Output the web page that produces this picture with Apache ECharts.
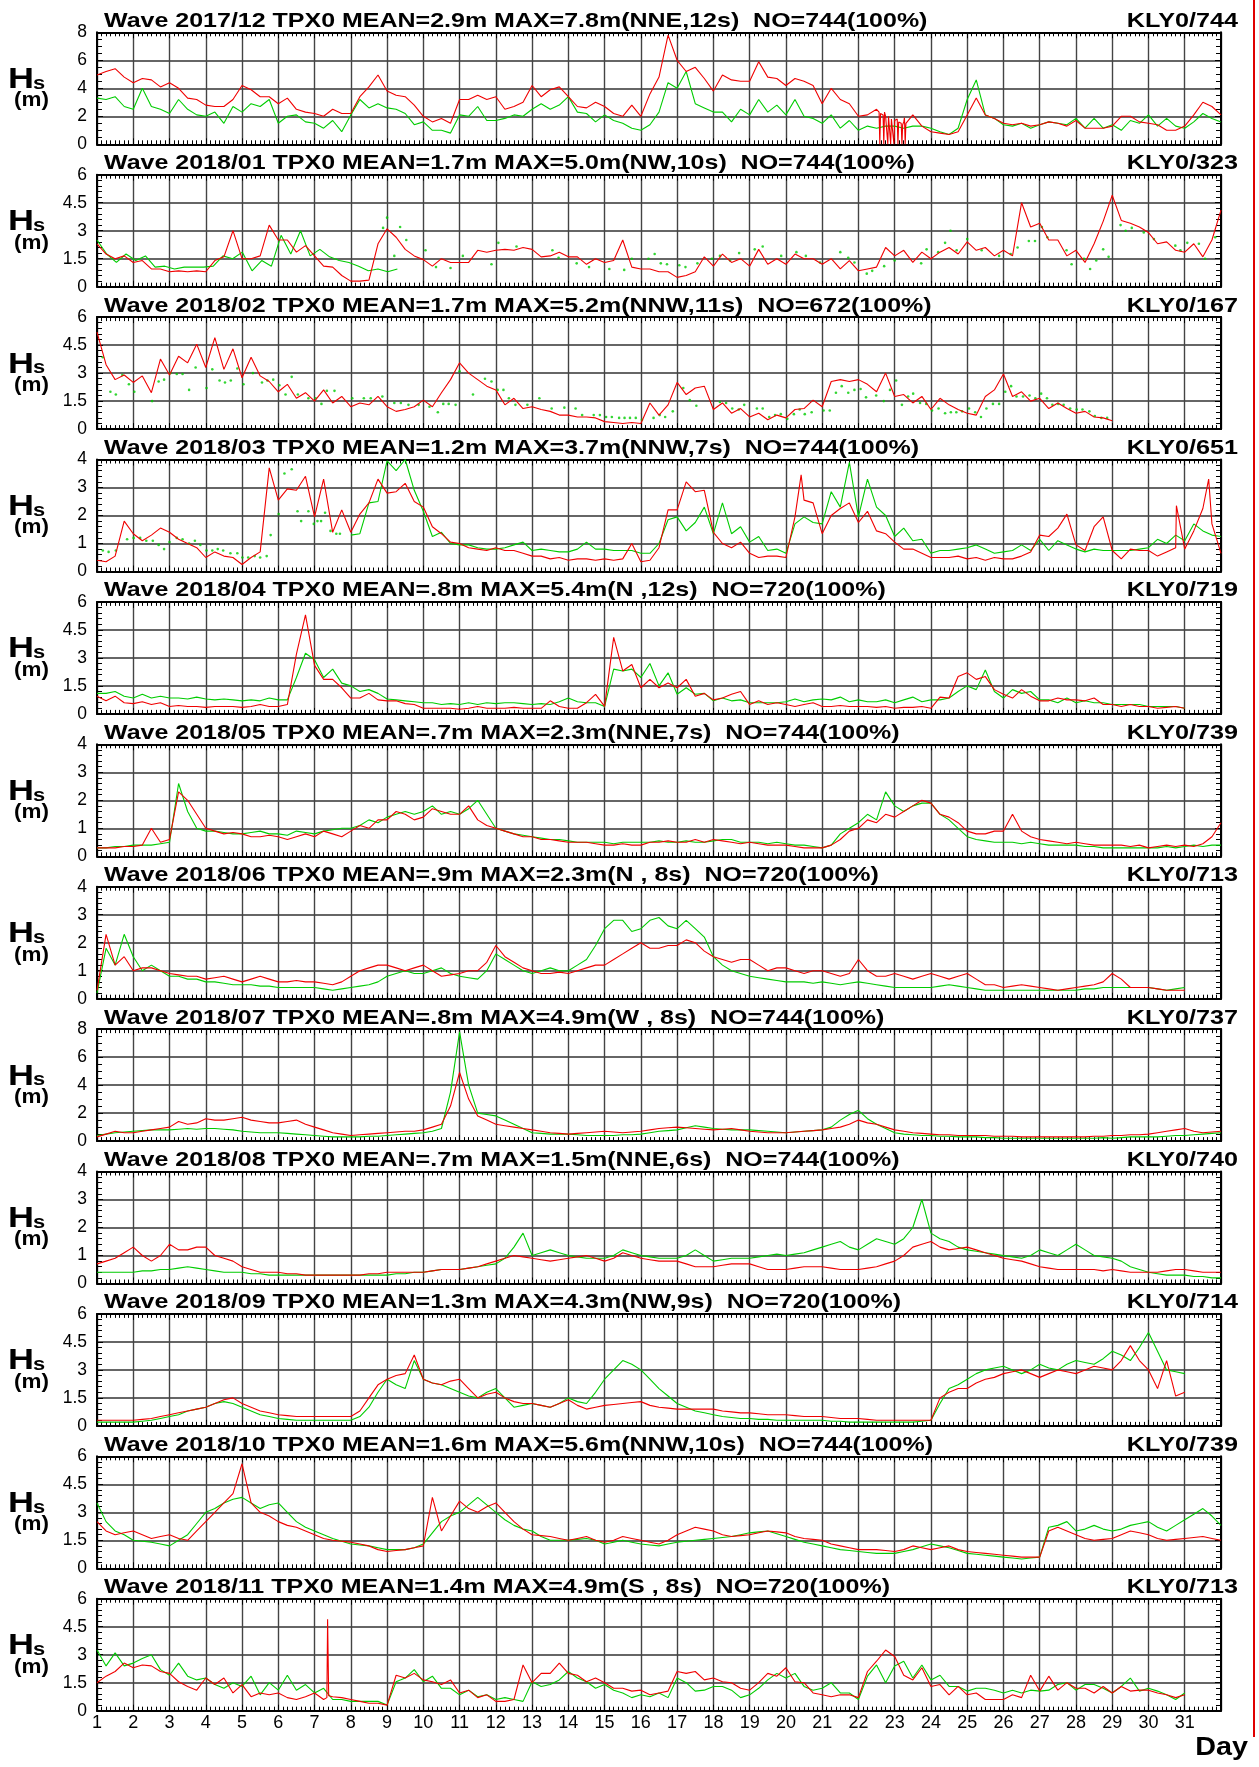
<!DOCTYPE html>
<html><head><meta charset="utf-8">
<script src="https://cdn.jsdelivr.net/npm/echarts@6/dist/echarts.min.js"></script>
<style>html,body{margin:0;padding:0;background:#fff}#c{width:1259px;height:1767px}</style>
</head><body><div id="c"></div>
<script>
// ---------------- labels ----------------
const panelTitles = [
 'Wave 2017/12 TPX0 MEAN=2.9m MAX=7.8m(NNE,12s)  NO=744(100%)',
 'Wave 2018/01 TPX0 MEAN=1.7m MAX=5.0m(NW,10s)  NO=744(100%)',
 'Wave 2018/02 TPX0 MEAN=1.7m MAX=5.2m(NNW,11s)  NO=672(100%)',
 'Wave 2018/03 TPX0 MEAN=1.2m MAX=3.7m(NNW,7s)  NO=744(100%)',
 'Wave 2018/04 TPX0 MEAN=.8m MAX=5.4m(N ,12s)  NO=720(100%)',
 'Wave 2018/05 TPX0 MEAN=.7m MAX=2.3m(NNE,7s)  NO=744(100%)',
 'Wave 2018/06 TPX0 MEAN=.9m MAX=2.3m(N , 8s)  NO=720(100%)',
 'Wave 2018/07 TPX0 MEAN=.8m MAX=4.9m(W , 8s)  NO=744(100%)',
 'Wave 2018/08 TPX0 MEAN=.7m MAX=1.5m(NNE,6s)  NO=744(100%)',
 'Wave 2018/09 TPX0 MEAN=1.3m MAX=4.3m(NW,9s)  NO=720(100%)',
 'Wave 2018/10 TPX0 MEAN=1.6m MAX=5.6m(NNW,10s)  NO=744(100%)',
 'Wave 2018/11 TPX0 MEAN=1.4m MAX=4.9m(S , 8s)  NO=720(100%)'
];
const stationTags = ['KLY0/744','KLY0/323','KLY0/167','KLY0/651','KLY0/719','KLY0/739','KLY0/713','KLY0/737','KLY0/740','KLY0/714','KLY0/739','KLY0/713'];
const yMaxes    = [8, 6, 6, 4, 6, 4, 4, 8, 4, 6, 6, 6];
const ySteps    = [2, 1.5, 1.5, 1, 1.5, 1, 1, 2, 1, 1.5, 1.5, 1.5];
const monthDays = [31, 31, 28, 31, 30, 31, 30, 31, 31, 30, 31, 30];
const dayLabels = ['1','2','3','4','5','6','7','8','9','10','11','12','13','14','15','16','17','18','19','20','21','22','23','24','25','26','27','28','29','30','31'];

// ---------------- data: Hs (m), 6-hourly from day 1 00h to the end of the month ----------------
const red_2017_12 = [
 4.95,5.2,5.4,4.8, 4.4,4.7,4.6,4.1, 4.4,4.0,3.3,3.2, 2.8,2.7,2.7,3.2, 4.2,3.9,3.4,3.4,
 2.9,3.3,2.5,2.3, 2.2,2.0,2.5,2.2, 2.2,3.4,4.1,4.95, 3.8,3.5,3.4,2.8, 2.0,1.6,1.85,1.5,
 3.2,3.2,3.5,3.2, 3.4,2.5,2.7,3.0, 4.2,3.4,3.9,4.1, 3.4,2.7,2.6,3.0, 2.7,2.2,2.0,2.8,
 2.0,3.6,4.8,7.8, 6.0,5.2,5.5,4.7, 3.8,4.95,4.6,4.5, 4.5,5.9,4.8,4.7, 4.2,4.7,4.5,4.2,
 2.9,4.0,3.2,2.9, 2.0,2.1,2.5,2.0, 1.7,1.6,2.1,1.3, 0.9,0.8,0.7,0.9, 2.1,3.3,2.1,1.85,
 1.5,1.4,1.5,1.3, 1.4,1.6,1.5,1.3, 1.7,1.15,1.15,1.15, 1.3,2.0,2.0,1.6, 1.5,1.4,1.0,1.0,
 1.3,2.1,3.0,2.7, 2.1];
const redSpikes_2017_12 = [[22.57,2.3],[22.59,0],[22.61,2.2],[22.68,2.1],[22.70,0],[22.72,2.3],[22.79,1.9],[22.81,0],
 [22.83,2.0],[22.87,2.1],[22.89,0],[22.91,1.8],[22.96,1.9],[22.98,0],[23.0,1.7],[23.07,1.8],[23.09,0],[23.11,1.6],
 [23.18,1.5],[23.2,0],[23.22,1.4],[23.27,1.9],[23.29,0],[23.31,1.5]];
const green_2017_12 = [
 3.3,3.2,3.4,2.7, 2.5,4.0,2.7,2.5, 2.2,3.2,2.5,2.1, 2.0,2.3,1.5,2.7, 2.3,2.9,2.7,3.2,
 1.5,2.0,2.1,1.6, 1.5,1.15,1.7,0.9, 2.1,3.2,2.6,2.9, 2.6,2.5,2.2,1.4, 1.6,1.0,1.0,0.8,
 2.1,2.0,2.7,1.7, 1.7,1.85,2.1,2.0, 2.5,2.9,2.5,2.8, 3.4,2.3,2.2,1.6, 2.1,1.7,1.5,1.15,
 1.0,1.4,2.3,4.4, 4.0,5.2,2.9,2.6, 2.3,2.3,1.6,2.5, 2.1,3.2,2.3,2.8, 2.1,3.2,2.0,1.85,
 1.5,2.1,1.15,1.7, 1.0,1.3,1.15,1.3, 1.3,1.15,1.3,1.3, 1.15,0.9,0.7,1.15, 3.2,4.6,2.1,1.85,
 1.4,1.3,1.5,1.15, 1.4,1.6,1.5,1.4, 1.85,1.15,1.85,1.15, 1.4,1.0,1.7,1.5, 2.1,1.3,1.85,1.3,
 1.15,1.6,2.2,1.85, 1.6];

const red_2018_01 = [
 2.3,1.75,1.5,1.65, 1.3,1.4,0.95,0.95, 0.8,0.85,0.8,0.85, 0.8,1.4,1.6,3.0, 1.5,1.5,1.65,3.3,
 2.5,2.5,1.85,2.2, 1.65,1.1,1.05,0.6, 0.3,0.3,0.35,2.3, 3.1,2.65,2.0,1.65, 1.45,1.1,1.5,1.3,
 1.3,1.3,1.95,1.85, 1.95,2.0,1.95,2.1, 2.0,1.6,1.65,1.85, 1.6,1.6,1.2,1.5, 1.3,1.4,2.5,1.05,
 0.95,0.95,0.8,0.8, 0.5,0.6,0.8,1.6, 1.1,1.75,1.3,1.5, 1.1,2.0,1.2,1.5, 1.2,1.75,1.5,1.5,
 1.2,1.5,0.95,1.4, 0.85,0.95,1.05,2.1, 1.65,1.95,1.3,1.85, 1.5,1.85,2.1,1.75, 2.4,1.95,2.1,1.65,
 1.95,1.65,4.5,3.2, 3.4,2.5,2.5,1.65, 1.95,1.3,2.3,3.5, 4.9,3.55,3.4,3.2, 2.9,2.3,2.4,1.95,
 1.85,2.3,1.6,2.5, 4.1];
const green_2018_01 = [
 2.5,1.75,1.3,1.75, 1.4,1.65,1.05,1.1, 0.95,1.05,1.05,1.05, 1.1,1.65,1.5,1.85, 0.85,1.4,1.1,2.75,
 1.75,3.0,1.65,2.0, 1.6,1.4,1.3,1.1, 0.85,0.95,0.8,0.95,
 null,null,null,null, null,null,null,null, null,null,null,null, null,null,null,null, null,null,null,null,
 null,null,null,null, null,null,null,null, null,null,null,null, null,null,null,null, null,null,null,null,
 null,null,null,null, null,null,null,null, null,null,null,null, null,null,null,null, null,null,null,null,
 null,null,null,null, null,null,null,null, null,null,null,null, null,null,null,null, null,null,null,null,
 null,null,null,null, null];
const greenDots_2018_01 = [
 [8.89,3.15],[9.0,3.7],[9.2,1.65],[9.36,3.2],[9.53,2.5],[10.06,1.95],[10.35,1.05],[10.75,1.0],[11.09,1.65],
 [11.88,1.2],[12.07,2.35],[12.57,2.15],[13.56,1.95],[13.73,1.55],[14.23,1.25],[14.57,1.05],[15.13,0.95],
 [15.54,0.9],[15.75,1.5],[16.21,1.5],[16.38,1.75],[16.55,1.25],[16.72,1.2],[17.06,1.15],[17.23,1.05],[17.56,1.25],
 [17.96,1.5],[18.18,1.65],[18.46,1.4],[18.71,1.8],[19.14,2.0],[19.36,2.15],[19.87,1.65],[20.29,1.85],[20.55,1.65],
 [20.94,1.3],[21.5,1.85],[21.72,1.55],[21.89,1.3],[22.23,0.7],[22.38,0.85],[22.71,1.1],[23.0,1.4],[23.73,1.25],
 [23.88,2.0],[24.2,1.85],[24.39,2.35],[24.54,3.0],[24.71,1.95],[25.0,2.55],[25.4,1.95],[25.88,1.65],[26.2,1.75],
 [26.39,2.1],[26.7,2.45],[26.87,2.45],[27.06,3.2],[27.21,2.65],[27.74,1.95],[27.88,1.2],[28.22,1.5],[28.39,0.95],
 [28.56,1.4],[28.75,2.0],[28.9,1.6],[29.23,3.3],[29.37,3.0],[29.54,3.15],[29.87,2.9],[30.15,2.55],[30.74,2.2],
 [30.88,1.95],[31.07,2.35],[31.39,2.3],[31.56,1.5],[31.84,2.65]];

const red_2018_02 = [
 5.2,3.45,2.65,2.9, 2.5,2.85,1.95,3.75, 2.9,3.9,3.55,4.55, 3.3,4.9,3.2,4.3, 2.75,3.85,2.85,2.55,
 2.0,2.4,1.65,1.95, 1.5,2.1,1.4,1.75, 1.2,1.4,1.3,1.75, 1.2,0.95,1.05,1.2, 1.55,1.2,1.95,2.65,
 3.55,3.0,2.65,2.3, 2.1,1.3,1.65,1.1, 1.2,1.05,0.95,0.75, 0.75,0.65,0.65,0.6, 0.4,0.35,0.3,0.35,
 0.3,1.4,0.75,1.3, 2.5,1.85,2.2,2.3, 1.05,1.4,0.85,1.1, 0.65,0.85,0.5,0.75, 0.6,1.05,1.1,1.55,
 1.2,2.55,2.65,2.55, 2.65,2.4,2.0,3.0, 1.75,1.85,1.4,1.75, 1.05,1.65,1.3,1.05, 0.85,0.75,1.75,2.1,
 2.95,1.75,2.0,1.5, 1.65,1.1,1.4,1.1, 0.85,0.95,0.65,0.6, 0.45];
const greenDots_2018_02 = [
 [1.16,3.85],[1.37,2.0],[1.52,1.85],[1.7,2.9],[1.88,2.4],[2.03,2.0],[2.52,1.5],[2.7,2.55],[2.85,2.65],[3.03,3.0],
 [3.2,2.95],[3.36,2.95],[3.54,2.1],[3.72,3.3],[4.02,2.2],[4.18,3.2],[4.38,2.6],[4.53,2.5],[4.69,2.6],[4.87,3.25],
 [5.04,2.4],[5.3,3.0],[5.55,2.5],[5.7,2.6],[5.86,2.65],[6.03,2.35],[6.2,1.85],[6.37,2.8],[6.54,1.85],[6.83,1.65],
 [7.03,1.65],[7.19,1.35],[7.34,2.05],[7.55,2.05],[8.04,1.65],[8.36,1.65],[8.55,1.65],[8.87,1.75],[9.2,1.4],[9.38,1.4],
 [9.59,1.3],[9.87,1.3],[10.17,1.2],[10.4,0.9],[10.55,1.35],[10.7,1.35],[10.89,1.3],[11.0,3.1],[11.37,1.85],[11.7,2.7],
 [11.88,2.55],[12.05,2.1],[12.21,2.1],[12.36,1.65],[12.54,1.3],[12.87,1.3],[13.2,1.65],[13.54,1.1],[13.89,1.15],[14.2,1.1],
 [14.38,0.75],[14.7,0.75],[14.87,0.75],[15.04,0.65],[15.2,0.65],[15.4,0.6],[15.55,0.6],[15.7,0.6],[15.86,0.6],[16.03,0.5],
 [16.35,0.6],[16.52,0.75],[16.67,0.65],[16.88,0.95],[17.17,2.2],[17.35,1.55],[17.53,1.25],[18.18,1.45],[18.35,1.4],
 [18.52,1.1],[18.7,1.05],[18.85,1.3],[19.2,1.1],[19.36,1.1],[19.54,0.65],[19.7,0.75],[19.86,0.8],[20.04,0.55],[20.22,0.8],
 [20.38,1.05],[20.52,0.8],[20.71,0.9],[21.04,1.0],[21.21,1.0],[21.38,1.95],[21.54,2.3],[21.72,1.95],[21.89,2.1],[22.06,2.15],
 [22.21,1.7],[22.49,1.8],[22.7,1.5],[22.87,2.1],[23.04,2.6],[23.2,1.3],[23.37,1.75],[23.51,1.9],[23.7,1.4],[23.87,1.35],
 [24.03,1.0],[24.21,1.1],[24.39,0.85],[24.55,0.9],[24.7,0.9],[24.86,0.95],[25.05,1.1],[25.22,0.9],[25.38,0.65],[25.53,1.1],
 [25.71,1.35],[25.88,1.35],[26.05,2.0],[26.21,2.3],[26.36,1.75],[26.54,1.75],[26.72,1.8],[26.88,1.65],[27.04,1.9],
 [27.2,1.65],[27.35,1.3],[27.51,1.35],[27.66,1.3],[27.84,1.1],[28.02,1.05],[28.18,1.05],[28.37,0.95],[28.52,0.7],
 [28.7,0.6],[28.86,0.6]];

const red_2018_03 = [
 0.4,0.35,0.55,1.8, 1.35,1.1,1.3,1.55, 1.4,1.15,1.0,0.85, 0.5,0.7,0.55,0.5, 0.25,0.5,0.7,3.7,
 2.55,2.95,2.9,3.4, 1.95,3.3,1.4,2.2, 1.4,2.05,2.45,3.3, 2.8,2.85,3.15,2.5, 2.3,1.6,1.35,1.05,
 1.0,0.85,0.8,0.75, 0.85,0.75,0.75,0.65, 0.55,0.55,0.45,0.5, 0.4,0.45,0.45,0.4, 0.45,0.4,0.45,1.0,
 0.35,0.4,0.85,2.2, 2.2,3.2,2.85,2.9, 1.4,1.0,0.85,1.05, 0.65,0.5,0.55,0.55, 0.5,1.95,2.55,2.45,
 1.35,2.0,2.25,2.45, 1.75,2.15,1.45,1.35, 1.05,0.8,0.8,0.65, 0.5,0.5,0.5,0.55, 0.45,0.5,0.4,0.5,
 0.45,0.45,0.55,0.7, 1.3,1.25,1.55,2.05, 0.95,0.75,1.6,1.95, 0.75,0.45,0.8,0.75, 0.75,0.55,0.7,0.85,
 0.8,1.45,2.25,1.7, 0.65];
const redSpikes_2018_03 = [[20.42,3.45],[30.77,2.35],[31.66,3.3]];
const green_2018_03 = [
 null,null,null,null, null,null,null,null, null,null,null,null, null,null,null,null, null,null,null,null,
 null,null,null,null, null,null,null,null, 1.3,1.35,2.45,2.5, 3.95,3.6,4.0,2.9, 2.15,1.25,1.4,1.0,
 0.95,0.95,0.85,0.8, 0.8,0.85,0.95,1.05, 0.75,0.8,0.75,0.7, 0.7,0.8,1.05,0.8, 0.8,0.75,0.75,0.75,
 0.65,0.65,1.0,1.85, 1.95,1.45,1.75,2.3, 1.35,2.45,1.35,1.6, 1.05,1.25,0.75,0.8, 0.65,1.7,1.95,1.75,
 1.7,2.85,2.3,3.9, 1.95,3.3,2.3,2.0, 1.25,1.55,1.1,1.15, 0.65,0.75,0.75,0.8, 0.85,0.95,0.8,0.65,
 0.7,0.75,0.95,0.75, 1.15,0.75,1.1,0.95, 0.8,0.7,0.8,0.75, 0.75,0.75,0.75,0.8, 0.85,1.15,1.0,1.3,
 1.1,1.7,1.45,1.3, 1.25];
const greenDots_2018_03 = [
 [1.16,0.75],[1.32,0.7],[1.52,0.75],[1.83,1.15],[2.01,1.2],[2.19,1.2],[2.36,1.1],[2.54,1.1],[2.7,0.95],[2.85,0.8],
 [3.0,1.05],[3.2,1.2],[3.36,1.15],[3.54,1.0],[3.7,1.1],[3.85,0.95],[4.02,0.75],[4.18,0.75],[4.33,0.8],[4.48,0.75],
 [4.68,0.65],[4.87,0.65],[5.01,0.5],[5.17,0.5],[5.35,0.55],[5.5,0.5],[5.68,0.55],[5.79,1.3],[6.01,2.05],[6.17,3.5],
 [6.37,3.65],[6.53,2.15],[6.63,1.8],[6.83,2.15],[6.98,1.7],[7.08,1.8],[7.18,1.8],[7.29,2.1],[7.44,1.45],[7.6,1.35],[7.7,1.35]];

const red_2018_04 = [
 0.95,0.7,0.95,0.6, 0.55,0.65,0.5,0.6, 0.4,0.45,0.4,0.4, 0.35,0.4,0.4,0.4, 0.35,0.4,0.5,0.4,
 0.4,0.5,3.2,5.3, 2.6,1.85,1.85,1.4, 0.85,0.85,1.1,0.75, 0.7,0.7,0.55,0.5, 0.3,0.3,0.3,0.3,
 0.25,0.3,0.4,0.3, 0.3,0.3,0.35,0.3, 0.3,0.3,0.7,0.4, 0.3,0.3,0.6,1.05, 0.4,4.1,2.3,2.65,
 1.4,1.85,1.4,1.65, 1.4,1.85,0.95,1.1, 0.75,0.85,1.05,1.2, 0.5,0.7,0.5,0.6, 0.5,0.4,0.5,0.6,
 0.4,0.4,0.45,0.4, 0.4,0.4,0.35,0.4, 0.3,0.35,0.35,0.4, 0.3,0.9,0.85,2.0, 2.2,1.85,2.0,1.3,
 1.05,0.85,1.3,0.95, 0.7,0.7,0.85,0.75, 0.75,0.7,0.85,0.5, 0.5,0.4,0.5,0.4, 0.4,0.3,0.35,0.4,
 0.3];
const green_2018_04 = [
 1.1,1.1,1.2,0.95, 0.85,1.05,0.85,0.95, 0.85,0.85,0.8,0.9, 0.8,0.75,0.8,0.75, 0.7,0.75,0.7,0.85,
 0.75,0.75,1.95,3.25, 2.9,1.95,2.4,1.65, 1.5,1.2,1.3,1.1, 0.8,0.75,0.7,0.65, 0.6,0.6,0.5,0.55,
 0.5,0.6,0.5,0.6, 0.55,0.6,0.6,0.55, 0.5,0.55,0.5,0.65, 0.85,0.65,0.6,0.6, 0.4,2.4,2.3,2.4,
 1.95,2.7,1.5,2.2, 1.05,1.4,1.05,1.1, 0.7,0.85,0.7,0.75, 0.6,0.6,0.6,0.6, 0.65,0.8,0.65,0.75,
 0.8,0.75,0.9,0.65, 0.75,0.65,0.65,0.75, 0.6,0.75,0.9,0.65, 0.75,0.75,0.85,1.2, 1.5,1.3,2.35,1.2,
 0.85,1.3,1.1,1.2, 0.75,0.75,0.6,0.85, 0.6,0.7,0.6,0.6, 0.5,0.5,0.5,0.5, 0.4,0.4,0.4,0.4,
 0.3];

const red_2018_05 = [
 0.3,0.3,0.3,0.35, 0.35,0.4,1.0,0.5, 0.6,2.3,2.0,1.5, 1.0,0.9,0.8,0.85, 0.8,0.7,0.7,0.75,
 0.7,0.6,0.7,0.8, 0.7,0.9,0.8,0.7, 0.9,1.1,1.0,1.3, 1.3,1.6,1.5,1.3, 1.4,1.7,1.6,1.5,
 1.5,1.8,1.3,1.1, 1.0,0.9,0.8,0.7, 0.7,0.6,0.6,0.55, 0.5,0.5,0.5,0.45, 0.4,0.4,0.45,0.4,
 0.4,0.5,0.5,0.55, 0.5,0.5,0.6,0.5, 0.6,0.55,0.5,0.45, 0.5,0.45,0.4,0.4, 0.4,0.35,0.3,0.3,
 0.3,0.4,0.6,0.9, 1.0,1.3,1.2,1.5, 1.4,1.6,1.8,2.0, 1.9,1.5,1.4,1.2, 0.9,0.8,0.8,0.9,
 0.9,1.5,0.9,0.7, 0.6,0.55,0.5,0.45, 0.5,0.45,0.4,0.4, 0.4,0.4,0.35,0.4, 0.3,0.35,0.4,0.35,
 0.4,0.35,0.45,0.7, 1.2];
const green_2018_05 = [
 0.3,0.3,0.35,0.35, 0.4,0.4,0.4,0.45, 0.5,2.6,1.6,1.0, 0.9,0.9,0.85,0.8, 0.8,0.85,0.9,0.8,
 0.8,0.75,0.9,0.85, 0.8,0.9,0.95,1.0, 1.0,1.1,1.3,1.2, 1.4,1.5,1.6,1.5, 1.6,1.8,1.5,1.6,
 1.5,1.7,2.0,1.5, 1.0,0.9,0.8,0.75, 0.7,0.65,0.6,0.6, 0.55,0.5,0.5,0.5, 0.5,0.45,0.5,0.5,
 0.5,0.5,0.55,0.5, 0.5,0.55,0.5,0.5, 0.55,0.6,0.6,0.5, 0.5,0.5,0.45,0.5, 0.45,0.4,0.4,0.35,
 0.3,0.4,0.8,1.0, 1.2,1.5,1.3,2.3, 1.8,1.6,1.8,1.9, 1.9,1.5,1.3,1.0, 0.7,0.6,0.55,0.5,
 0.5,0.5,0.45,0.5, 0.45,0.4,0.4,0.4, 0.4,0.35,0.35,0.3, 0.3,0.3,0.3,0.3, 0.3,0.3,0.35,0.3,
 0.35,0.4,0.35,0.4, 0.4];

const red_2018_06 = [
 0.3,2.3,1.2,1.5, 1.0,1.1,1.1,1.0, 0.9,0.85,0.8,0.8, 0.7,0.75,0.8,0.7, 0.6,0.7,0.8,0.7,
 0.6,0.6,0.65,0.6, 0.6,0.55,0.5,0.6, 0.8,1.0,1.1,1.2, 1.2,1.1,1.0,1.1, 1.2,1.0,0.8,0.85,
 0.9,1.0,1.0,1.3, 1.9,1.5,1.3,1.1, 1.0,0.9,0.9,0.95, 0.9,1.0,1.1,1.2, 1.2,1.4,1.6,1.8,
 2.0,1.8,1.8,1.9, 1.9,2.1,2.0,1.7, 1.5,1.4,1.3,1.4, 1.4,1.2,1.0,1.1, 1.1,1.0,0.9,1.0,
 1.0,0.9,0.8,0.9, 1.4,1.0,0.8,0.8, 0.9,0.8,0.7,0.8, 0.9,0.8,0.7,0.8, 0.9,0.7,0.5,0.5,
 0.4,0.45,0.5,0.45, 0.4,0.35,0.3,0.35, 0.4,0.45,0.5,0.6, 0.9,0.7,0.4,0.4, 0.4,0.35,0.3,0.3,
 0.3];
const green_2018_06 = [
 0.2,1.8,1.2,2.3, 1.5,1.0,1.2,1.0, 0.8,0.8,0.7,0.7, 0.6,0.6,0.55,0.5, 0.5,0.5,0.45,0.45,
 0.4,0.4,0.4,0.4, 0.4,0.35,0.3,0.35, 0.4,0.45,0.5,0.6, 0.8,0.9,1.0,0.9, 0.9,1.0,1.1,0.9,
 0.8,0.75,0.7,1.0, 1.6,1.4,1.2,1.0, 0.9,1.0,1.1,1.0, 1.0,1.2,1.4,1.9, 2.5,2.8,2.8,2.4,
 2.5,2.8,2.9,2.6, 2.5,2.8,2.5,2.2, 1.5,1.2,1.0,0.9, 0.8,0.75,0.7,0.65, 0.6,0.6,0.6,0.55,
 0.6,0.55,0.5,0.55, 0.6,0.55,0.5,0.45, 0.4,0.4,0.4,0.4, 0.4,0.45,0.5,0.45, 0.4,0.35,0.3,0.3,
 0.3,0.3,0.3,0.3, 0.3,0.3,0.3,0.3, 0.3,0.35,0.35,0.4, 0.4,0.4,0.4,0.4, 0.4,0.35,0.3,0.35,
 0.4];

const red_2018_07 = [
 0.3,0.5,0.7,0.6, 0.6,0.7,0.8,0.9, 1.0,1.4,1.2,1.3, 1.6,1.5,1.5,1.6, 1.7,1.5,1.4,1.3,
 1.3,1.4,1.5,1.2, 1.0,0.8,0.6,0.5, 0.4,0.45,0.5,0.55, 0.6,0.65,0.7,0.7, 0.8,1.0,1.2,2.5,
 4.9,3.0,1.8,1.5, 1.2,1.1,1.0,0.9, 0.8,0.7,0.6,0.55, 0.5,0.55,0.6,0.65, 0.7,0.65,0.6,0.65,
 0.7,0.8,0.9,0.95, 1.0,0.95,0.9,0.85, 0.8,0.85,0.9,0.8, 0.7,0.65,0.6,0.6, 0.6,0.65,0.7,0.75,
 0.8,0.9,1.0,1.2, 1.5,1.3,1.2,1.0, 0.8,0.7,0.6,0.55, 0.5,0.45,0.45,0.4, 0.4,0.4,0.4,0.35,
 0.35,0.35,0.3,0.3, 0.3,0.3,0.3,0.3, 0.3,0.3,0.35,0.35, 0.4,0.4,0.45,0.45, 0.5,0.6,0.7,0.8,
 0.9,0.7,0.6,0.65, 0.7];
const green_2018_07 = [
 0.4,0.5,0.6,0.65, 0.7,0.75,0.8,0.8, 0.8,0.85,0.9,0.85, 0.9,0.9,0.85,0.8, 0.7,0.65,0.6,0.6,
 0.6,0.55,0.5,0.45, 0.4,0.35,0.3,0.3, 0.3,0.3,0.35,0.35, 0.4,0.45,0.5,0.55, 0.6,0.7,0.9,3.5,
 7.8,4.0,2.0,1.9, 1.8,1.5,1.2,0.9, 0.6,0.55,0.5,0.5, 0.5,0.45,0.4,0.4, 0.4,0.4,0.45,0.45,
 0.5,0.6,0.7,0.75, 0.8,0.95,1.1,1.0, 0.9,0.85,0.8,0.8, 0.8,0.75,0.7,0.65, 0.6,0.65,0.7,0.75,
 0.8,1.0,1.5,1.9, 2.2,1.6,1.2,0.9, 0.6,0.5,0.45,0.4, 0.4,0.35,0.35,0.3, 0.3,0.3,0.25,0.25,
 0.2,0.2,0.2,0.2, 0.2,0.2,0.2,0.2, 0.2,0.2,0.2,0.25, 0.2,0.25,0.3,0.3, 0.3,0.3,0.35,0.4,
 0.4,0.45,0.5,0.55, 0.6];

const red_2018_08 = [
 0.7,0.8,0.9,1.1, 1.3,1.0,0.8,1.0, 1.4,1.2,1.2,1.3, 1.3,1.0,0.9,0.8, 0.6,0.5,0.4,0.4,
 0.4,0.35,0.35,0.3, 0.3,0.3,0.3,0.3, 0.3,0.3,0.35,0.35, 0.4,0.4,0.4,0.4, 0.4,0.45,0.5,0.5,
 0.5,0.55,0.6,0.7, 0.8,0.9,1.0,0.95, 0.9,0.85,0.8,0.85, 0.9,0.95,1.0,0.9, 0.8,0.9,1.1,1.0,
 0.9,0.85,0.8,0.8, 0.8,0.7,0.6,0.6, 0.6,0.65,0.7,0.7, 0.7,0.6,0.5,0.5, 0.5,0.55,0.6,0.6,
 0.6,0.55,0.5,0.5, 0.5,0.55,0.6,0.7, 0.8,1.0,1.3,1.4, 1.5,1.3,1.2,1.25, 1.3,1.2,1.1,1.0,
 0.9,0.85,0.8,0.7, 0.6,0.55,0.5,0.5, 0.5,0.5,0.5,0.45, 0.5,0.45,0.4,0.4, 0.4,0.4,0.45,0.5,
 0.5,0.45,0.4,0.4, 0.4];
const green_2018_08 = [
 0.4,0.4,0.4,0.4, 0.4,0.45,0.45,0.5, 0.5,0.55,0.6,0.55, 0.5,0.45,0.4,0.4, 0.4,0.35,0.35,0.3,
 0.3,0.3,0.3,0.3, 0.3,0.3,0.3,0.3, 0.3,0.3,0.3,0.3, 0.3,0.35,0.35,0.4, 0.4,0.45,0.5,0.5,
 0.5,0.55,0.6,0.65, 0.7,0.9,1.3,1.8, 1.0,1.1,1.2,1.1, 1.0,0.95,0.9,0.9, 0.9,1.0,1.2,1.1,
 1.0,0.95,0.9,0.9, 0.9,1.0,1.2,1.0, 0.8,0.85,0.9,0.9, 0.9,0.95,1.0,1.05, 1.0,1.05,1.1,1.2,
 1.3,1.4,1.5,1.3, 1.2,1.4,1.6,1.5, 1.4,1.6,2.0,3.0, 1.8,1.6,1.5,1.3, 1.2,1.15,1.1,1.05,
 1.0,0.95,0.9,1.0, 1.2,1.1,1.0,1.2, 1.4,1.2,1.0,0.95, 0.9,0.8,0.6,0.5, 0.4,0.35,0.3,0.3,
 0.3,0.25,0.25,0.2, 0.2];

const red_2018_09 = [
 0.3,0.3,0.3,0.3, 0.3,0.35,0.4,0.5, 0.6,0.7,0.8,0.9, 1.0,1.2,1.4,1.5, 1.2,1.0,0.8,0.7,
 0.6,0.55,0.5,0.5, 0.5,0.5,0.5,0.5, 0.5,0.8,1.5,2.2, 2.5,2.7,2.8,3.8, 2.5,2.3,2.2,2.4,
 2.5,2.0,1.5,1.7, 1.8,1.5,1.3,1.2, 1.2,1.1,1.0,1.2, 1.4,1.1,0.9,1.0, 1.1,1.15,1.2,1.25,
 1.3,1.1,1.0,0.95, 0.9,0.9,0.9,0.9, 0.9,0.8,0.75,0.7, 0.7,0.65,0.6,0.6, 0.6,0.55,0.5,0.5,
 0.5,0.45,0.4,0.4, 0.4,0.35,0.3,0.3, 0.3,0.3,0.3,0.3, 0.3,1.5,1.8,2.0, 2.0,2.3,2.5,2.6,
 2.8,2.9,3.0,2.8, 2.6,2.8,3.0,2.9, 2.8,3.0,3.2,3.1, 3.0,3.5,4.3,3.5, 3.0,2.0,3.5,1.6,
 1.8];
const green_2018_09 = [
 0.2,0.2,0.2,0.2, 0.2,0.25,0.3,0.4, 0.5,0.6,0.8,0.9, 1.0,1.2,1.3,1.2, 1.0,0.8,0.6,0.5,
 0.4,0.35,0.3,0.3, 0.3,0.3,0.3,0.3, 0.3,0.5,1.0,1.8, 2.5,2.2,2.0,3.5, 2.5,2.3,2.2,2.0,
 1.8,1.6,1.5,1.8, 2.0,1.5,1.0,1.1, 1.2,1.1,1.0,1.2, 1.5,1.3,1.2,1.8, 2.5,3.0,3.5,3.3,
 3.0,2.5,2.0,1.6, 1.2,1.0,0.8,0.7, 0.6,0.5,0.45,0.4, 0.4,0.35,0.35,0.3, 0.3,0.3,0.3,0.3,
 0.3,0.25,0.25,0.2, 0.2,0.2,0.2,0.2, 0.2,0.2,0.2,0.25, 0.3,1.2,2.0,2.2, 2.5,2.8,3.0,3.1,
 3.2,3.0,2.8,3.0, 3.3,3.1,3.0,3.3, 3.5,3.4,3.3,3.6, 4.0,3.8,3.5,4.2, 5.0,4.0,3.0,2.9,
 2.8];

const red_2018_10 = [
 2.5,2.0,1.8,1.9, 2.0,1.8,1.6,1.7, 1.8,1.6,1.5,2.0, 2.5,3.0,3.5,4.0, 5.6,3.5,3.0,2.8,
 2.5,2.3,2.2,2.0, 1.8,1.6,1.5,1.45, 1.4,1.3,1.2,1.0, 0.9,0.95,1.0,1.1, 1.2,3.8,2.0,2.8,
 3.6,3.2,3.0,3.3, 3.5,3.0,2.5,2.1, 1.8,1.75,1.7,1.6, 1.5,1.6,1.7,1.5, 1.4,1.5,1.7,1.6,
 1.5,1.4,1.3,1.5, 1.8,2.0,2.2,2.1, 2.0,1.8,1.7,1.75, 1.8,1.9,2.0,1.95, 1.9,1.7,1.6,1.55,
 1.5,1.3,1.2,1.1, 1.0,1.0,1.0,0.95, 0.9,1.0,1.2,1.1, 1.0,1.1,1.2,1.0, 0.9,0.85,0.8,0.75,
 0.7,0.65,0.6,0.6, 0.6,2.0,2.2,2.0, 1.8,1.6,1.5,1.55, 1.6,1.8,2.0,1.9, 1.8,1.6,1.5,1.55,
 1.6,1.65,1.7,1.6, 1.5];
const green_2018_10 = [
 3.5,2.5,2.0,1.8, 1.5,1.45,1.4,1.3, 1.2,1.5,1.8,2.4, 3.0,3.2,3.5,3.7, 3.8,3.5,3.2,3.4,
 3.5,3.0,2.5,2.2, 2.0,1.8,1.6,1.45, 1.3,1.25,1.2,1.1, 1.0,1.0,1.0,1.1, 1.3,1.9,2.5,2.8,
 3.0,3.4,3.8,3.4, 3.0,2.6,2.3,2.1, 2.0,1.7,1.5,1.5, 1.5,1.55,1.6,1.5, 1.3,1.4,1.5,1.4,
 1.3,1.25,1.2,1.3, 1.4,1.45,1.5,1.55, 1.6,1.65,1.7,1.8, 1.9,1.95,2.0,1.85, 1.7,1.55,1.4,1.3,
 1.2,1.1,1.0,0.95, 0.9,0.85,0.8,0.8, 0.8,0.9,1.0,1.15, 1.3,1.2,1.1,0.95, 0.8,0.75,0.7,0.65,
 0.6,0.55,0.5,0.55, 0.6,2.2,2.3,2.5, 2.0,2.1,2.3,2.1, 2.0,2.1,2.3,2.4, 2.5,2.2,2.0,2.3,
 2.6,2.9,3.2,2.8, 2.3];

const red_2018_11 = [
 1.5,1.85,2.1,2.55, 2.3,2.45,2.4,2.1, 2.0,1.55,1.3,1.1, 1.75,1.4,1.75,0.95, 1.4,0.75,0.95,0.85,
 0.95,0.7,0.6,0.75, 0.95,0.6,0.75,0.7, 0.6,0.5,0.4,0.4, 0.3,1.9,1.75,2.0, 1.65,1.55,1.4,1.65,
 0.95,1.1,0.7,0.85, 0.5,0.5,0.6,2.45, 1.5,2.0,2.0,2.55, 2.0,1.9,1.55,1.75, 1.5,1.2,1.2,1.05,
 1.1,0.85,0.95,1.05, 2.1,2.0,2.1,1.65, 1.75,1.55,1.5,1.2, 1.1,1.5,2.0,1.85, 2.3,1.55,1.5,0.95,
 0.85,0.75,0.85,0.85, 0.7,2.1,2.65,3.25, 2.9,1.9,1.65,2.3, 1.3,1.4,0.85,1.3, 0.85,0.95,0.6,0.6,
 0.6,0.85,0.7,1.9, 1.05,1.85,1.1,1.5, 1.2,1.2,0.95,1.3, 0.95,1.3,1.05,1.1, 1.1,0.95,0.85,0.7,
 0.85];
const redSpikes_2018_11 = [[7.34,0.7],[7.36,4.9],[7.39,0.8]];
const green_2018_11 = [
 3.25,2.4,3.1,2.4, 2.55,2.8,3.0,2.2, 1.9,2.55,1.85,1.65, 1.75,1.4,1.2,1.5, 1.3,1.85,0.85,1.5,
 1.1,1.9,1.1,1.4, 0.95,1.2,0.6,0.6, 0.5,0.5,0.5,0.5, 0.3,1.55,1.75,2.2, 1.55,1.85,1.2,1.2,
 0.85,1.1,0.75,0.85, 0.6,0.7,0.6,0.5, 1.55,1.3,1.4,1.65, 2.1,1.75,1.55,1.2, 1.4,1.1,0.95,0.7,
 0.85,0.75,0.95,0.7, 1.75,1.5,1.05,1.1, 1.3,1.3,1.1,0.7, 0.85,1.2,1.65,2.0, 1.75,2.0,1.3,1.1,
 1.2,1.5,0.95,0.95, 0.6,1.85,2.45,1.5, 2.4,2.65,1.75,2.45, 1.65,1.9,1.3,1.3, 1.05,1.2,1.2,1.1,
 0.95,1.1,0.95,1.1, 1.05,1.1,1.4,1.5, 1.1,1.4,1.4,1.2, 0.95,1.3,1.75,1.05, 1.2,1.05,0.85,0.6,
 0.95];

const redSets    = [red_2017_12, red_2018_01, red_2018_02, red_2018_03, red_2018_04, red_2018_05, red_2018_06, red_2018_07, red_2018_08, red_2018_09, red_2018_10, red_2018_11];
const redSpikeSets = [redSpikes_2017_12, null, null, redSpikes_2018_03, null, null, null, null, null, null, null, redSpikes_2018_11];
const greenSets  = [green_2017_12, green_2018_01, null, green_2018_03, green_2018_04, green_2018_05, green_2018_06, green_2018_07, green_2018_08, green_2018_09, green_2018_10, green_2018_11];
const dotSets    = [null, greenDots_2018_01, greenDots_2018_02, greenDots_2018_03, null, null, null, null, null, null, null, null];

// ---------------- layout ----------------
const LEFT = 97, RIGHT = 38, PH = 112, TOP0 = 32.3, GAP = 142.4;
const FONT = '"Liberation Sans", Arial, Helvetica, sans-serif';
const RED = '#f00000', GREEN = '#00cc00';

function toPoints(arr, nDays, extra) {
  const step = nDays / (arr.length - 1);
  const pts = arr.map((v, i) => [1 + i * step, v]);
  if (extra) { extra.forEach(p => pts.push(p)); pts.sort((a, b) => a[0] - b[0]); }
  return pts;
}
function label(x, y, text, size, align, sx) {
  return { type: 'text', x: x, y: y, scaleX: sx, scaleY: 1, silent: true,
    style: { text: text, font: 'bold ' + size + 'px ' + FONT, fill: '#000', textAlign: align, textVerticalAlign: 'middle' } };
}

const grids = [], xAxes = [], yAxes = [], series = [], graphics = [];
for (let k = 0; k < 12; k++) {
  const top = TOP0 + GAP * k;
  const last = k === 11;
  grids.push({ left: LEFT, right: RIGHT, top: top, height: PH });
  const xBase = {
    type: 'value', gridIndex: k, min: 1, max: 32, interval: 1,
    axisLine: { show: true, onZero: false, lineStyle: { color: '#000', width: 2 } },
    axisTick: { show: true, inside: true, length: 6, lineStyle: { color: '#000', width: 1 } },
    minorTick: { show: true, splitNumber: 8, length: 4, lineStyle: { color: '#000', width: 1 } },
    minorSplitLine: { show: false }
  };
  xAxes.push(Object.assign({}, xBase, {
    position: 'bottom',
    splitLine: { show: true, lineStyle: { color: '#444', width: 1.4 } },
    axisLabel: last ? { show: true, color: '#000', fontSize: 18, fontFamily: FONT, margin: 3,
      formatter: v => dayLabels[v - 1] || '' } : { show: false }
  }));
  xAxes.push(Object.assign({}, xBase, { position: 'top', splitLine: { show: false }, axisLabel: { show: false } }));
  const minorN = yMaxes[k] === 8 ? 4 : 5;
  const yBase = {
    type: 'value', gridIndex: k, min: 0, max: yMaxes[k], interval: ySteps[k],
    axisLine: { show: true, onZero: false, lineStyle: { color: '#000', width: 2 } },
    axisTick: { show: true, inside: true, length: 6, lineStyle: { color: '#000', width: 1 } },
    minorTick: { show: true, splitNumber: minorN, length: 5, lineStyle: { color: '#000', width: 1 } }
  };
  yAxes.push(Object.assign({}, yBase, {
    position: 'left',
    splitLine: { show: true, lineStyle: { color: '#333', width: 1.6 } },
    axisLabel: { show: true, color: '#000', fontSize: 17.5, fontFamily: FONT, margin: 10 }
  }));
  yAxes.push(Object.assign({}, yBase, { position: 'right', splitLine: { show: false }, axisLabel: { show: false } }));

  if (greenSets[k]) series.push({
    type: 'line', xAxisIndex: 2 * k, yAxisIndex: 2 * k, data: toPoints(greenSets[k], monthDays[k]),
    showSymbol: false, connectNulls: false, lineStyle: { color: GREEN, width: 1.1 }, itemStyle: { color: GREEN },
    animation: false, silent: true, z: 3
  });
  if (dotSets[k]) series.push({
    type: 'scatter', xAxisIndex: 2 * k, yAxisIndex: 2 * k, data: dotSets[k],
    symbolSize: 2.6, itemStyle: { color: GREEN }, animation: false, silent: true, z: 3
  });
  series.push({
    type: 'line', xAxisIndex: 2 * k, yAxisIndex: 2 * k, data: toPoints(redSets[k], monthDays[k], redSpikeSets[k]),
    showSymbol: false, connectNulls: false, lineStyle: { color: RED, width: 1.1 }, itemStyle: { color: RED },
    animation: false, silent: true, z: 4
  });

  graphics.push(label(104, top - 11.3, panelTitles[k], 21, 'left', 1.19));
  graphics.push(label(1238, top - 11.3, stationTags[k], 21, 'right', 1.2));
  graphics.push(label(8, top + 47.3, 'H', 30, 'left', 1.2));
  graphics.push(label(33, top + 51.1, 's', 19, 'left', 1.15));
  graphics.push(label(14, top + 68.5, '(m)', 19.5, 'left', 1.15));
}
graphics.push(label(1248, 1748, 'Day', 25, 'right', 1.15));
graphics.push({ type: 'line', silent: true, shape: { x1: 1254, y1: 0, x2: 1254, y2: 1737 }, style: { stroke: '#e00000', lineWidth: 2 } });

const chart = echarts.init(document.getElementById('c'), null, { renderer: 'canvas', width: 1259, height: 1767 });
chart.setOption({
  backgroundColor: '#fff', animation: false,
  grid: grids, xAxis: xAxes, yAxis: yAxes, series: series, graphic: graphics
});
</script></body></html>
